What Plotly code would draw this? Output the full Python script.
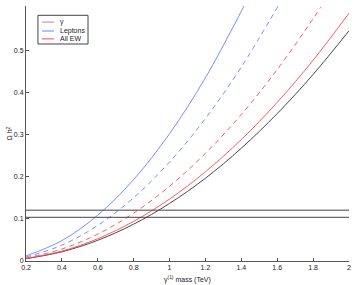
import plotly.graph_objects as go

mass = [0.2, 0.4, 0.6, 0.8, 1.0, 1.2, 1.4, 1.6, 1.8, 2.0]
gamma_solid = [0.0055, 0.0219, 0.0493, 0.0877, 0.137, 0.197, 0.2685, 0.351, 0.444, 0.548]
allew_solid = [0.0059, 0.0236, 0.0531, 0.0944, 0.1475, 0.2124, 0.2891, 0.3776, 0.4779, 0.59]
mass_allew_dash = [0.2, 0.4, 0.6, 0.8, 1.0, 1.2, 1.4, 1.6, 1.8, 1.844]
allew_dash = [0.0071, 0.0285, 0.0641, 0.1139, 0.178, 0.2563, 0.3489, 0.4557, 0.5767, 0.605]
mass_lep_dash = [0.2, 0.4, 0.6, 0.8, 1.0, 1.2, 1.4, 1.605]
lep_dash = [0.0094, 0.0377, 0.0848, 0.1508, 0.2356, 0.3393, 0.4618, 0.607]
mass_lep_solid = [0.2, 0.4, 0.6, 0.8, 1.0, 1.2, 1.415]
lep_solid = [0.0121, 0.0485, 0.1091, 0.1939, 0.303, 0.4363, 0.607]
band = [0.104, 0.121]
legend_names = ["γ", "Leptons", "All EW"]

BLACK = "#333333"
BLUE = "#6a82ff"
RED = "#ff4a4a"
FONT = dict(size=7, color="#222222", family="Liberation Sans, Arial")
LW = 0.9

fig = go.Figure()
fig.add_trace(go.Scatter(x=mass, y=gamma_solid, mode="lines", name=legend_names[0], showlegend=False,
                         line=dict(color=BLACK, width=LW, shape="spline")))
fig.add_trace(go.Scatter(x=mass_lep_solid, y=lep_solid, mode="lines", name=legend_names[1], showlegend=False,
                         line=dict(color=BLUE, width=LW, shape="spline")))
fig.add_trace(go.Scatter(x=mass, y=allew_solid, mode="lines", name=legend_names[2], showlegend=False,
                         line=dict(color=RED, width=LW, shape="spline")))
fig.add_trace(go.Scatter(x=mass_lep_dash, y=lep_dash, mode="lines", showlegend=False,
                         line=dict(color=BLUE, width=LW, shape="spline", dash="5px,4px")))
fig.add_trace(go.Scatter(x=mass_allew_dash, y=allew_dash, mode="lines", showlegend=False,
                         line=dict(color=RED, width=LW, shape="spline", dash="5px,4px")))
for b in band:
    fig.add_trace(go.Scatter(x=[mass[0], mass[-1]], y=[b, b], mode="lines", showlegend=False,
                             line=dict(color="#444444", width=1)))

axis_common = dict(showgrid=False, zeroline=False, showline=True, linecolor="#555555",
                   linewidth=1, ticks="inside", ticklen=3, tickcolor="#555555",
                   tickfont=FONT, automargin=False)
fig.update_xaxes(range=[0.2, 2.0], tickvals=[0.2, 0.4, 0.6, 0.8, 1.0, 1.2, 1.4, 1.6, 1.8, 2.0],
                 ticktext=["0.2", "0.4", "0.6", "0.8", "1", "1.2", "1.4", "1.6", "1.8", "2"],
                 **axis_common)
fig.update_yaxes(range=[0, 0.607], tickvals=[0, 0.1, 0.2, 0.3, 0.4, 0.5],
                 ticktext=["0", "0.1", "0.2", "0.3", "0.4", "0.5"],
                 **axis_common)

annotations = [
    dict(text="γ<sup>(1)</sup> mass (TeV)", x=0.5, y=0, xref="paper", yref="paper",
         xanchor="center", yanchor="top", yshift=-12, showarrow=False, font=FONT),
    dict(text="Ω h<sup>2</sup>", x=0, y=0.5, xref="paper", yref="paper", textangle=-90,
         xanchor="right", yanchor="middle", xshift=-11, showarrow=False, font=FONT),
]
shapes = [dict(type="rect", xref="paper", yref="paper", x0=0.037, x1=0.192, y0=0.851, y1=0.9635,
               line=dict(color="#444444", width=1), fillcolor="white", layer="above")]
legend_colors = ["#999999", BLUE, RED]
legend_rows = [0.937, 0.902, 0.871]
for name, col, yy in zip(legend_names, legend_colors, legend_rows):
    shapes.append(dict(type="line", xref="paper", yref="paper", x0=0.0495, x1=0.0867, y0=yy, y1=yy,
                       line=dict(color=col, width=1), layer="above"))
    annotations.append(dict(text=name, x=0.099, y=yy, xref="paper", yref="paper",
                            xanchor="left", yanchor="middle", showarrow=False, font=FONT))

fig.update_layout(
    width=354, height=285,
    margin=dict(l=26, r=5, t=6, b=24),
    plot_bgcolor="white", paper_bgcolor="white",
    showlegend=False, annotations=annotations, shapes=shapes,
)
fig.write_html("out.html", config={"displayModeBar": False},
               post_script="document.body.style.margin='0';document.body.style.overflow='hidden';")
